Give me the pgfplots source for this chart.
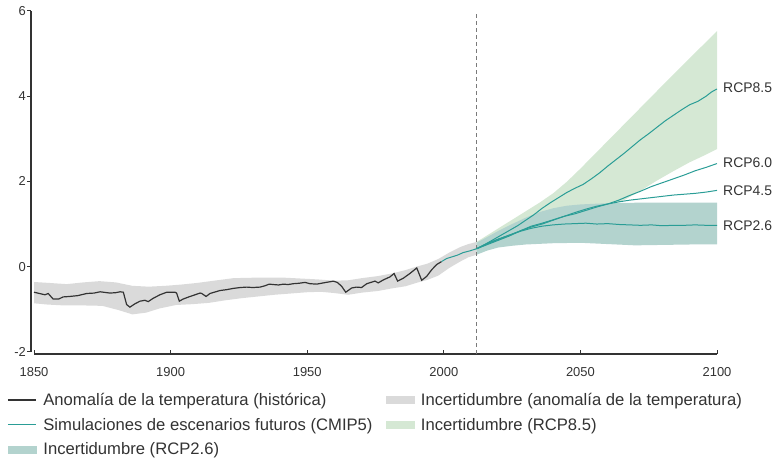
\documentclass[border=0pt]{standalone}
\usepackage{fontspec}
\setmainfont{Liberation Sans}
\usepackage{pgfplots}
\pgfplotsset{compat=1.18}
\usetikzlibrary{calc}
\definecolor{histc}{HTML}{333333}
\definecolor{axc}{HTML}{333333}
\definecolor{txtc}{HTML}{333333}
\definecolor{greyband}{HTML}{DADADA}
\definecolor{greenband}{HTML}{D5E8D4}
\definecolor{tealband}{HTML}{B3D3CE}
\definecolor{tealline}{HTML}{2A9D96}
\definecolor{dashc}{HTML}{7A7A7A}
\begin{document}
\begin{tikzpicture}
\begin{axis}[
  scale only axis, width=686bp, height=343bp,
  xmin=1848.9, xmax=2100, ymin=-2.05, ymax=6,
  axis x line*=bottom, axis y line*=left,
  x axis line style={shorten <=3bp},
  y axis line style={shorten <=2bp},
  axis line style={draw=axc, line width=1.1bp},
  xtick={1850,1900,1950,2000,2050,2100},
  ytick={-2,0,2,4,6},
  tick align=outside, major tick length=4bp,
  tick style={draw=axc, line width=1bp},
  xtick style={yshift=4bp},
  /pgf/number format/assume math mode=true,
  /pgf/number format/1000 sep={},
  tick label style={font=\fontsize{13}{13}\selectfont, text=txtc},
  xticklabel style={yshift=-5.7bp},
  yticklabel style={xshift=2.3bp},
  clip=false,
  legend columns=2, legend cell align=left,
  legend style={at={(axis description cs:0,0)}, anchor=north west,
    xshift=-24bp, yshift=-39bp, draw=none, fill=none, inner sep=0pt,
    font=\fontsize{16.7}{16.7}\selectfont, text=txtc, row sep=11bp,
    /tikz/every odd column/.append style={column sep=7bp},
    /tikz/every even column/.append style={column sep=13bp},
    nodes={inner sep=0pt}},
]
% historical uncertainty band
\addplot[fill=greyband, draw=none, forget plot] coordinates {
(1850,-0.36)(1855,-0.38)(1862,-0.41)(1868,-0.37)(1874,-0.34)(1880,-0.37)(1886,-0.45)(1892,-0.47)(1898,-0.45)(1904,-0.42)(1910,-0.38)(1917,-0.32)(1923,-0.27)(1930,-0.26)(1936,-0.26)(1942,-0.26)(1948,-0.28)(1954,-0.30)(1960,-0.33)(1965,-0.32)(1970,-0.27)(1976,-0.22)(1981,-0.16)(1986,-0.08)(1990,0.00)(1994,0.07)(1998,0.18)(2002,0.33)(2006,0.46)(2009,0.53)(2012,0.58)
(2012,0.28)(2009,0.22)(2006,0.12)(2002,-0.03)(1998,-0.21)(1994,-0.31)(1990,-0.38)(1986,-0.46)(1981,-0.51)(1976,-0.57)(1970,-0.61)(1965,-0.66)(1960,-0.62)(1955,-0.59)(1950,-0.60)(1944,-0.63)(1938,-0.66)(1932,-0.70)(1926,-0.74)(1920,-0.79)(1914,-0.85)(1908,-0.88)(1902,-0.90)(1896,-0.98)(1891,-1.08)(1886,-1.12)(1881,-1.02)(1875,-0.92)(1868,-0.91)(1861,-0.91)(1855,-0.89)(1850,-0.86)
} -- cycle;
% RCP8.5 uncertainty band
\addplot[fill=greenband, draw=none, forget plot] coordinates {
(2012,0.58)(2016,0.74)(2020,0.90)(2025,1.10)(2030,1.30)(2035,1.50)(2040,1.72)(2045,1.99)(2050,2.30)(2060,2.95)(2070,3.60)(2080,4.25)(2090,4.89)(2100,5.53)
(2100,2.76)(2095,2.60)(2090,2.45)(2084,2.24)(2078,2.02)(2072,1.78)(2066,1.56)(2060,1.42)(2050,1.20)(2030,0.70)(2012,0.30)
} -- cycle;
% RCP2.6 uncertainty band
\addplot[fill=tealband, draw=none, forget plot] coordinates {
(2012,0.56)(2016,0.70)(2020,0.84)(2025,1.00)(2030,1.15)(2035,1.28)(2040,1.37)(2045,1.43)(2050,1.46)(2060,1.49)(2070,1.50)(2100,1.50)
(2100,0.52)(2090,0.52)(2080,0.51)(2070,0.50)(2060,0.53)(2050,0.56)(2040,0.55)(2030,0.52)(2025,0.49)(2020,0.45)(2016,0.38)(2012,0.28)
} -- cycle;
% 2012 marker
\addplot[draw=dashc, line width=1bp, dash pattern=on 4bp off 3bp, forget plot] coordinates {(2012,-2.05) (2012,5.97)};
% historical anomaly
\addplot[draw=histc, line width=1.2bp, forget plot] coordinates {
(1850,-0.60)(1852,-0.63)(1854,-0.66)(1855.2,-0.63)(1857,-0.76)(1859,-0.76)(1860.7,-0.71)(1863,-0.70)(1866,-0.68)(1869.3,-0.63)(1872,-0.62)(1874.2,-0.59)(1877.8,-0.62)(1880,-0.61)(1881.5,-0.59)(1882.7,-0.60)(1883.9,-0.89)(1885.1,-0.95)(1887,-0.87)(1888.8,-0.81)(1890.6,-0.79)(1891.8,-0.82)(1893.7,-0.74)(1896.1,-0.66)(1898.6,-0.60)(1901.6,-0.60)(1902.2,-0.62)(1903.2,-0.81)(1904.6,-0.76)(1907.1,-0.70)(1910.8,-0.62)(1911.4,-0.63)(1913,-0.70)(1914.4,-0.63)(1918.1,-0.56)(1920.5,-0.54)(1923,-0.51)(1925.5,-0.49)(1927.9,-0.48)(1930,-0.49)(1932.7,-0.48)(1934.5,-0.45)(1936.1,-0.41)(1937.6,-0.42)(1939.5,-0.43)(1941.3,-0.41)(1943,-0.42)(1944.9,-0.40)(1947,-0.39)(1949.2,-0.37)(1951,-0.40)(1953.5,-0.41)(1956,-0.38)(1959.6,-0.34)(1961,-0.37)(1962.6,-0.46)(1964.1,-0.60)(1966.3,-0.50)(1968.1,-0.48)(1969.9,-0.49)(1971.8,-0.40)(1974.8,-0.34)(1976,-0.38)(1977.9,-0.31)(1980.3,-0.24)(1981.8,-0.16)(1983.1,-0.34)(1985.2,-0.27)(1987.6,-0.16)(1990.1,-0.03)(1991.9,-0.32)(1993.7,-0.23)(1995.6,-0.07)(1997.4,0.05)(1999.2,0.12)
};
% simulations
\addplot[draw=tealline, line width=1bp, forget plot] coordinates {
(1999.2,0.12)(2001,0.19)(2003.5,0.24)(2005,0.27)(2007.1,0.33)(2009.5,0.37)(2012,0.42)
};
\addplot[draw=tealline, line width=1bp, forget plot] coordinates {
(2012,0.42)(2015,0.52)(2018,0.63)(2021,0.74)(2024,0.85)(2027,0.96)(2030,1.09)(2033,1.22)(2036,1.37)(2039,1.50)(2042,1.62)(2045,1.74)(2048,1.84)(2051,1.93)(2054,2.06)(2057,2.20)(2060,2.36)(2063,2.51)(2066,2.66)(2069,2.82)(2072,2.98)(2075,3.12)(2078,3.27)(2081,3.42)(2084,3.55)(2087,3.68)(2090,3.80)(2093,3.88)(2096,4.00)(2098,4.10)(2100,4.17)
};
\addplot[draw=tealline, line width=1bp, forget plot] coordinates {
(2012,0.42)(2016,0.52)(2020,0.62)(2024,0.72)(2028,0.84)(2032,0.95)(2036,1.02)(2040,1.10)(2044,1.18)(2048,1.24)(2052,1.32)(2056,1.40)(2060,1.47)(2064,1.56)(2068,1.67)(2072,1.77)(2076,1.88)(2080,1.97)(2084,2.06)(2088,2.15)(2092,2.25)(2096,2.33)(2100,2.42)
};
\addplot[draw=tealline, line width=1bp, forget plot] coordinates {
(2012,0.42)(2016,0.54)(2020,0.64)(2024,0.74)(2028,0.84)(2032,0.93)(2036,1.00)(2040,1.09)(2044,1.18)(2048,1.27)(2052,1.35)(2056,1.42)(2060,1.47)(2064,1.52)(2068,1.56)(2072,1.59)(2076,1.62)(2080,1.65)(2084,1.68)(2088,1.70)(2092,1.72)(2096,1.75)(2100,1.79)
};
\addplot[draw=tealline, line width=1bp, forget plot] coordinates {
(2012,0.42)(2016,0.55)(2020,0.65)(2024,0.74)(2028,0.83)(2032,0.90)(2036,0.95)(2040,0.98)(2044,1.00)(2048,1.01)(2052,1.02)(2056,1.00)(2060,1.01)(2064,0.99)(2068,0.98)(2072,0.97)(2076,0.98)(2080,0.96)(2084,0.97)(2088,0.97)(2092,0.98)(2096,0.97)(2100,0.97)
};
% legend
\addlegendimage{legend image code/.code={\draw[histc,line width=1.2bp] (0bp,0bp) -- (28bp,0bp);}}
\addlegendentry{Anomalía de la temperatura (histórica)}
\addlegendimage{legend image code/.code={\fill[greyband] (0bp,-3.5bp) rectangle (28bp,3.5bp);}}
\addlegendentry{Incertidumbre (anomalía de la temperatura)}
\addlegendimage{legend image code/.code={\draw[tealline,line width=1.2bp] (0bp,0bp) -- (28bp,0bp);}}
\addlegendentry{Simulaciones de escenarios futuros (CMIP5)}
\addlegendimage{legend image code/.code={\fill[greenband] (0bp,-3.5bp) rectangle (28bp,3.5bp);}}
\addlegendentry{Incertidumbre (RCP8.5)}
\addlegendimage{legend image code/.code={\fill[tealband] (0bp,-3.5bp) rectangle (28bp,3.5bp);}}
\addlegendentry{Incertidumbre (RCP2.6)}
% scenario labels
\node[anchor=west, inner sep=0pt, xshift=6bp, font=\fontsize{14}{14}\selectfont, text=txtc] at (axis cs:2100,4.19) {RCP8.5};
\node[anchor=west, inner sep=0pt, xshift=6bp, font=\fontsize{14}{14}\selectfont, text=txtc] at (axis cs:2100,2.44) {RCP6.0};
\node[anchor=west, inner sep=0pt, xshift=6bp, font=\fontsize{14}{14}\selectfont, text=txtc] at (axis cs:2100,1.78) {RCP4.5};
\node[anchor=west, inner sep=0pt, xshift=6bp, font=\fontsize{14}{14}\selectfont, text=txtc] at (axis cs:2100,0.96) {RCP2.6};
\end{axis}
\pgfresetboundingbox
\path ($(current axis.south west)+(-31bp,-105bp)$) rectangle ($(current axis.north east)+(55bp,11bp)$);
\end{tikzpicture}
\end{document}
